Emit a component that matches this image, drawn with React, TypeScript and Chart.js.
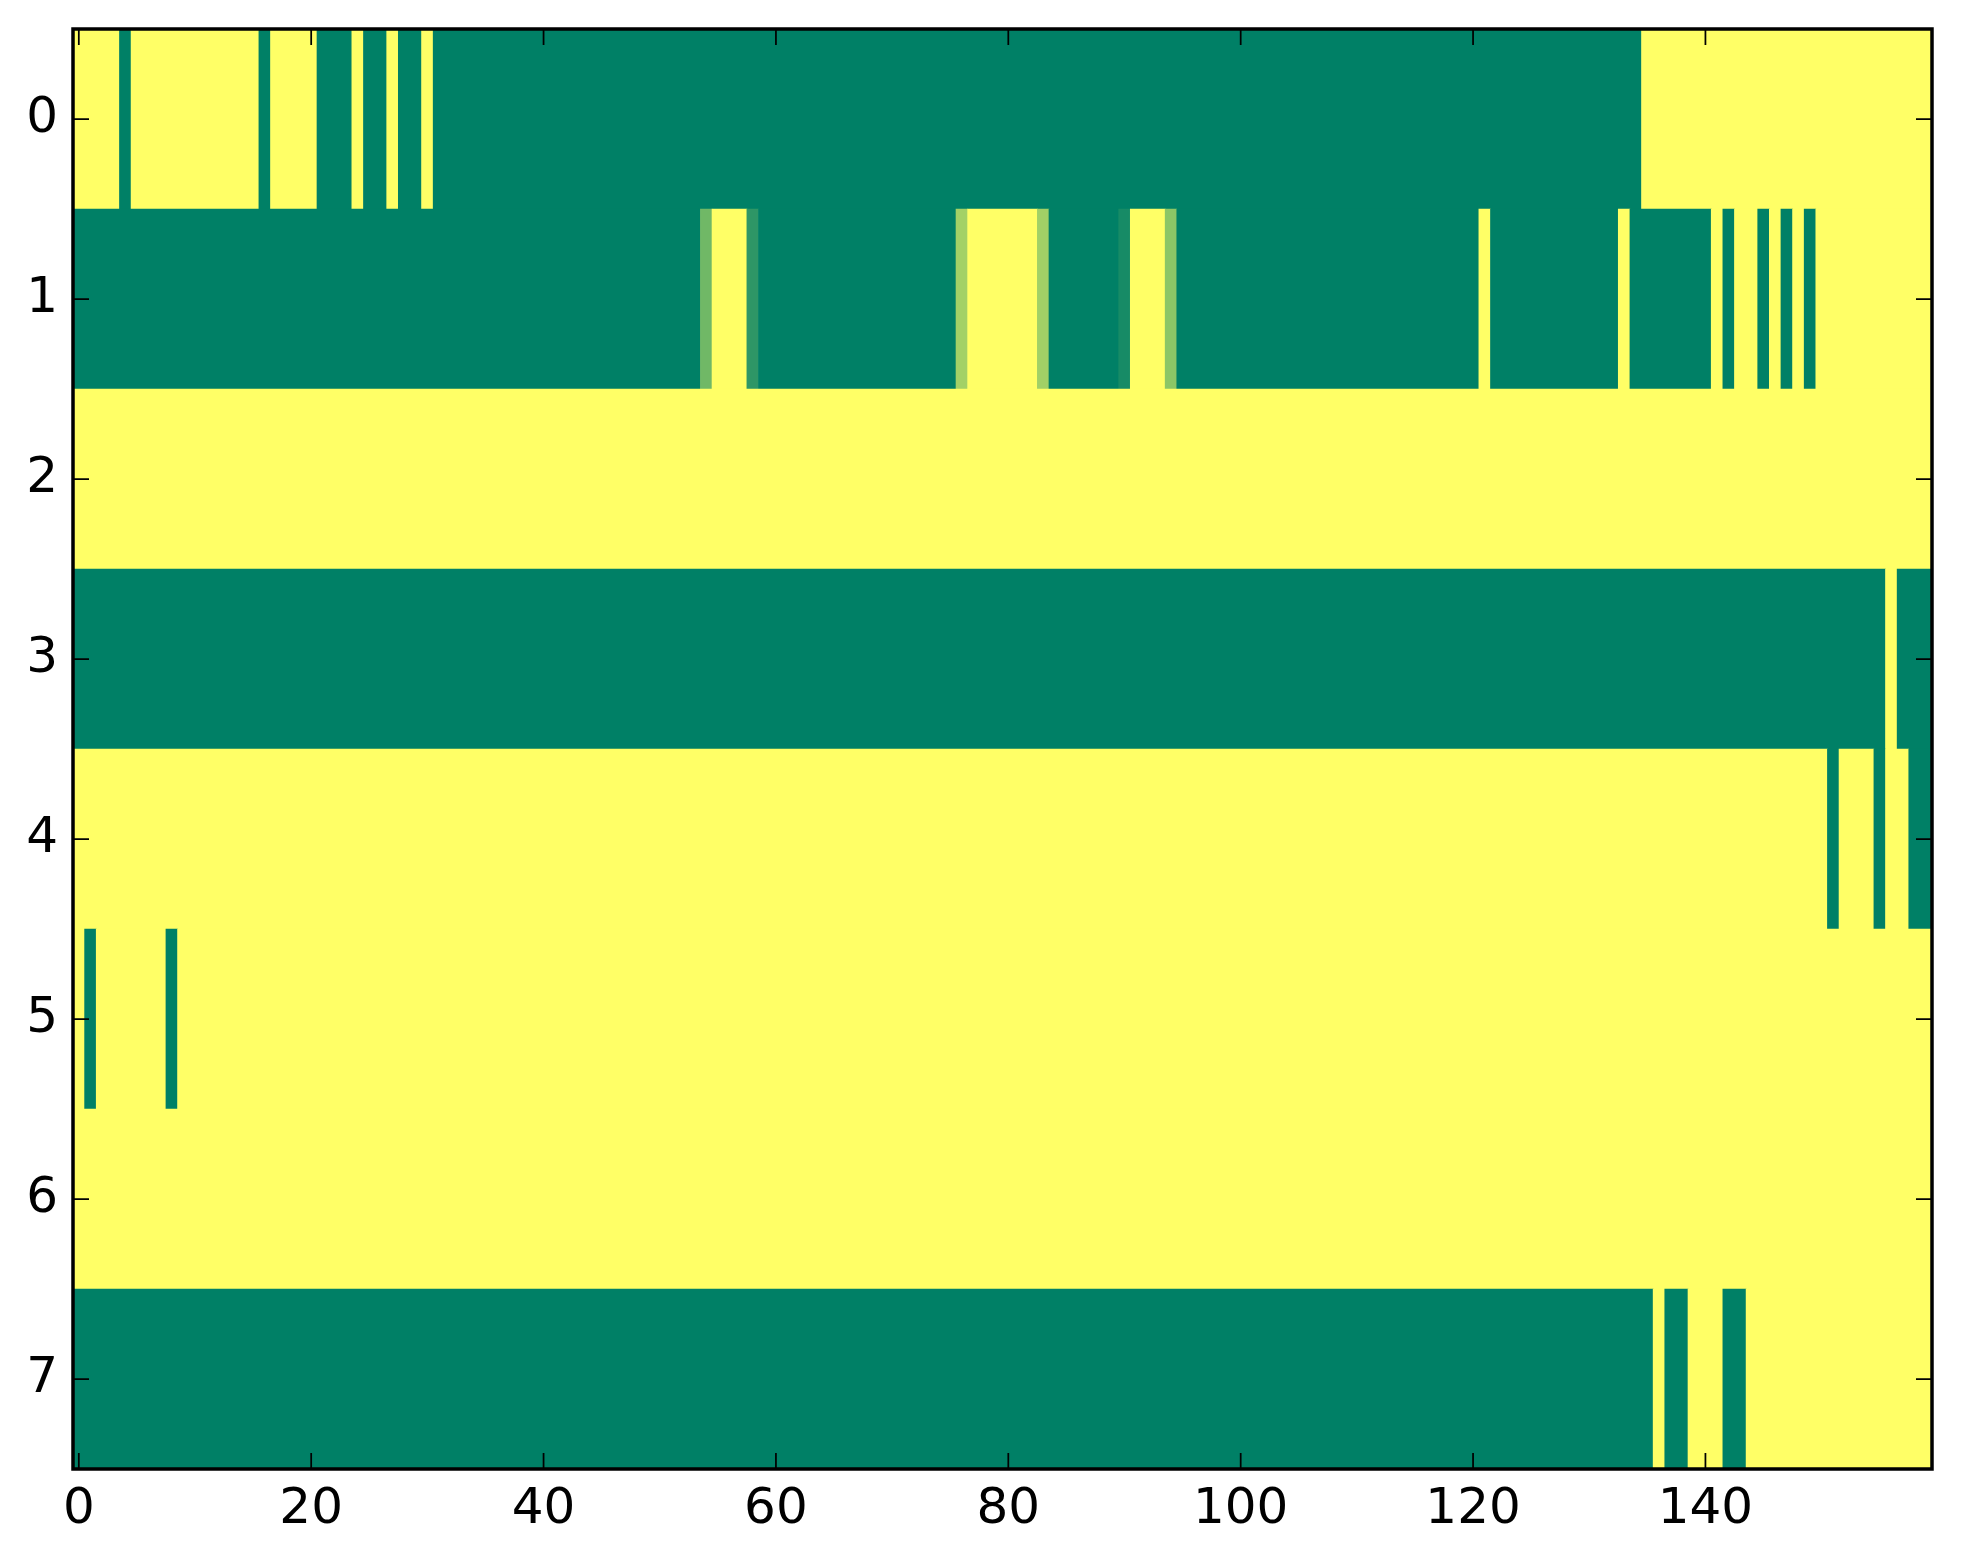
import React, { useEffect, useRef } from 'react';
import { Chart, registerables } from 'chart.js';

Chart.register(...registerables);

const rowLabels = ['0', '1', '2', '3', '4', '5', '6', '7'];
const xTickValues = [0, 20, 40, 60, 80, 100, 120, 140];

// each row is a list of runs [value, number of columns], read left to right (160 columns)
const row0Runs = [[1, 4], [0, 1], [1, 11], [0, 1], [1, 4], [0, 3], [1, 1], [0, 2], [1, 1], [0, 2], [1, 1], [0, 104], [1, 25]];
const row1Runs = [
  [0, 54], [0.44, 1], [1, 3], [0.18, 1], [0, 17], [0.64, 1], [1, 6], [0.63, 1], [0, 6], [0.09, 1], [1, 3], [0.55, 1],
  [0, 26], [1, 1], [0, 11], [1, 1], [0, 7], [1, 1], [0, 1], [1, 2], [0, 1], [1, 1], [0, 1], [1, 1], [0, 1], [1, 10],
];
const row2Runs = [[1, 160]];
const row3Runs = [[0, 156], [1, 1], [0, 3]];
const row4Runs = [[1, 151], [0, 1], [1, 3], [0, 1], [1, 2], [0, 2]];
const row5Runs = [[1, 1], [0, 1], [1, 6], [0, 1], [1, 151]];
const row6Runs = [[1, 160]];
const row7Runs = [[0, 136], [1, 1], [0, 2], [1, 3], [0, 2], [1, 16]];

const rowRuns = [row0Runs, row1Runs, row2Runs, row3Runs, row4Runs, row5Runs, row6Runs, row7Runs];

// matplotlib "summer" colormap
const summer = (v: number) =>
  `rgb(${Math.round(255 * v)}, ${Math.round(127.5 + 127.5 * v)}, 102)`;

const tickFont = { family: '"DejaVu Sans", sans-serif', size: 50, lineHeight: 1 };

const framePlugin = {
  id: 'frame',
  afterDraw(chart: any) {
    const { ctx, chartArea: a, scales } = chart;
    const len = 16;
    ctx.save();
    ctx.strokeStyle = '#000';
    ctx.lineWidth = 1.75;
    ctx.beginPath();
    scales.x.ticks.forEach((t: any) => {
      const px = scales.x.getPixelForValue(t.value);
      ctx.moveTo(px, a.bottom);
      ctx.lineTo(px, a.bottom - len);
      ctx.moveTo(px, a.top);
      ctx.lineTo(px, a.top + len);
    });
    scales.y.ticks.forEach((_t: any, i: number) => {
      const py = scales.y.getPixelForTick(i);
      ctx.moveTo(a.left, py);
      ctx.lineTo(a.left + len, py);
      ctx.moveTo(a.right, py);
      ctx.lineTo(a.right - len, py);
    });
    ctx.stroke();
    ctx.lineWidth = 3.5;
    ctx.strokeRect(a.left, a.top, a.right - a.left, a.bottom - a.top);
    ctx.restore();
  },
};

const App: React.FC = () => {
  const canvasRef = useRef<HTMLCanvasElement>(null);
  const chartRef = useRef<Chart | null>(null);

  useEffect(() => {
    if (!canvasRef.current) return;
    if (chartRef.current) chartRef.current.destroy();

    const cells: Array<{ x: number[]; y: string; v: number }> = [];
    rowRuns.forEach((runs, r) => {
      let start = 0;
      runs.forEach(([v, n]) => {
        cells.push({ x: [start - 0.5, start + n - 0.5], y: rowLabels[r], v });
        start += n;
      });
    });

    chartRef.current = new Chart(canvasRef.current, {
      type: 'bar',
      data: {
        labels: rowLabels,
        datasets: [
          {
            data: cells as any,
            backgroundColor: (c: any) => summer(c.raw ? c.raw.v : 0),
            borderWidth: 0,
            barPercentage: 1,
            categoryPercentage: 1,
          },
        ],
      },
      options: {
        indexAxis: 'y',
        responsive: false,
        devicePixelRatio: 1,
        animation: false,
        events: [],
        layout: { padding: { left: 0, right: 31, top: 29, bottom: 0 } },
        plugins: { legend: { display: false }, tooltip: { enabled: false } },
        scales: {
          x: {
            type: 'linear',
            position: 'bottom',
            min: -0.5,
            max: 159.5,
            grid: { display: false, drawTicks: false },
            border: { display: false },
            ticks: { font: tickFont, color: '#000', padding: 16, maxRotation: 0 },
            afterBuildTicks: (s: any) => {
              s.ticks = xTickValues.map((value) => ({ value }));
            },
            afterFit: (s: any) => {
              s.height = 95;
              s.paddingLeft = 0;
              s.paddingRight = 0;
            },
          },
          y: {
            type: 'category',
            offset: true,
            grid: { display: false, drawTicks: false },
            border: { display: false },
            ticks: { font: tickFont, color: '#000', padding: 15 },
            afterFit: (s: any) => {
              s.width = 73;
              s.paddingTop = 0;
              s.paddingBottom = 0;
            },
          },
        },
      },
      plugins: [framePlugin],
    });

    return () => {
      if (chartRef.current) {
        chartRef.current.destroy();
        chartRef.current = null;
      }
    };
  }, []);

  return (
    <div style={{ position: 'absolute', left: 0, top: 0, width: 1963, height: 1564, background: '#fff' }}>
      <canvas ref={canvasRef} width={1963} height={1564} style={{ display: 'block' }}></canvas>
    </div>
  );
};

export default App;
